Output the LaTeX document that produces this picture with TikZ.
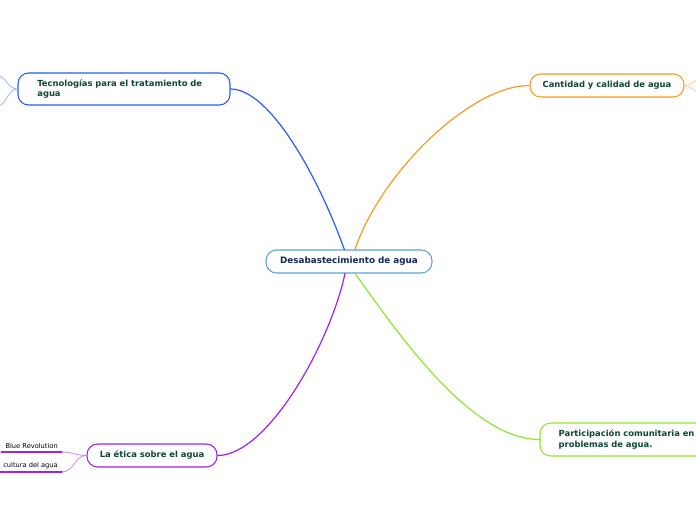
\documentclass[tikz,border=0pt]{standalone}
\usepackage{fontspec}
\setmainfont{DejaVu Sans}
\definecolor{azul}{RGB}{38,92,240}
\definecolor{celeste}{RGB}{92,160,222}
\definecolor{naranja}{RGB}{247,154,30}
\definecolor{morado}{RGB}{160,32,238}
\definecolor{lima}{RGB}{138,232,42}
\definecolor{marino}{RGB}{22,38,88}
\definecolor{verdeosc}{RGB}{14,70,54}
\begin{document}
\begin{tikzpicture}[x=0.75pt,y=-0.75pt,line join=round,line cap=round,
    font=\bfseries\fontsize{6.3}{7.6}\selectfont,
    tema/.style={draw=#1,line width=0.8pt,rounded corners=8pt,fill=white,text=verdeosc,inner ysep=0pt},
    rama/.style={#1,line width=0.9pt},
    hoja/.style={font=\fontsize{5}{6}\selectfont,anchor=south east,inner xsep=3pt,inner ysep=2pt}]
    \useasboundingbox (0,0) rectangle (696,520);
    % nodo central
    \node[tema=celeste,text=marino,minimum width=124.5pt,minimum height=17.25pt,font=\bfseries\fontsize{6.6}{7.8}\selectfont] (centro) at (349,261.5) {Desabastecimiento de agua};
    % temas principales
    \node[tema=azul,minimum width=159pt,minimum height=24pt,text width=130pt,align=left] (tec) at (124,89) {Tecnologías para el tratamiento de\\agua};
    \node[tema=naranja,minimum width=115.5pt,minimum height=17.25pt] (cant) at (607,85.5) {Cantidad y calidad de agua};
    \node[tema=morado,minimum width=97.5pt,minimum height=17.25pt] (etica) at (152,455.5) {La ética sobre el agua};
    \node[tema=lima,minimum width=150pt,minimum height=24.75pt,text width=122pt,align=left] (part) at (640,439.5) {Participación comunitaria en\\problemas de agua.};
    % ramas
    \draw[rama=azul] ([xshift=-3.5pt]centro.north) .. controls +(-25,-70) and +(40,0) .. (tec.east);
    \draw[rama=naranja] ([xshift=4.5pt]centro.north) .. controls +(25,-75) and +(-60,0) .. (cant.west);
    \draw[rama=morado] ([xshift=-3pt]centro.south) .. controls +(-15,70) and +(50,0) .. (etica.east);
    \draw[rama=lima] ([xshift=4.5pt]centro.south) .. controls +(40,55) and +(-70,0) .. (part.west);
    % subtemas
    \node[hoja] (blue) at (62,452) {Blue Revolution};
    \node[hoja] (cult) at (62,472) {cultura del agua};
    \foreach \h in {blue,cult} {
        \draw[morado,line width=1.5pt] (\h.south west)--(\h.south east);
        \draw[rama=morado!55,line width=0.6pt] (\h.south east) .. controls +(12,0) and +(-12,0) .. (etica.west);
    }
    % ramas cortadas en el borde
    \coordinate (t1) at (-2,76);
    \coordinate (t2) at (-2,106);
    \coordinate (c1) at (698,80);
    \coordinate (c2) at (698,92);
    \foreach \p in {t1,t2} \draw[rama=azul!45,line width=0.6pt] (tec.west) .. controls +(-10,0) and +(8,0) .. (\p);
    \foreach \p in {c1,c2} \draw[rama=naranja!50,line width=0.6pt] (cant.east) .. controls +(6,0) and +(-4,0) .. (\p);
\end{tikzpicture}
\end{document}
